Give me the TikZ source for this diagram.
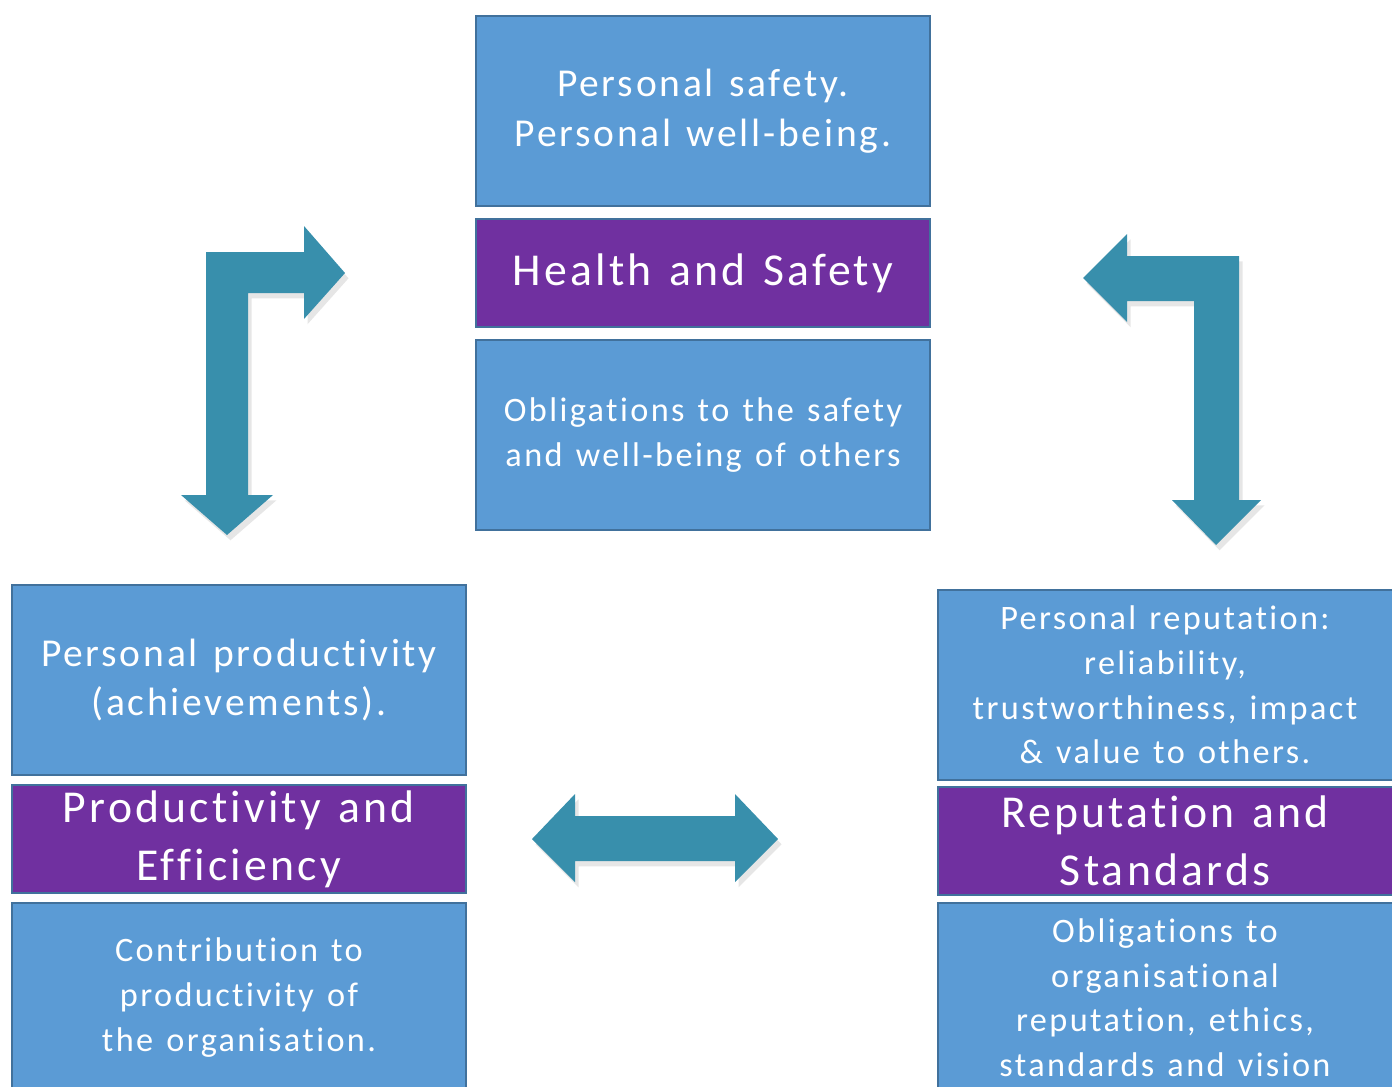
\documentclass[tikz,border=0pt]{standalone}
\usepackage{fontspec}
\setmainfont{Carlito}[LetterSpace=7, WordSpace=1.3, Ligatures=NoCommon]
\usetikzlibrary{positioning,shadows}

\definecolor{boxblue}{RGB}{91,155,213}
\definecolor{boxedge}{RGB}{65,113,156}
\definecolor{boxpurple}{RGB}{112,48,160}
\definecolor{arrowteal}{RGB}{56,143,172}

\tikzset{
  infobox/.style={draw=boxedge, line width=1.1pt, fill=boxblue, text=white,
    inner sep=0pt, align=center, minimum width=9.1cm, minimum height=3.8cm},
  titlebox/.style={infobox, fill=boxpurple, minimum height=2.16cm},
  bigtext/.style={font=\fontsize{22.5}{28.3}\selectfont},
  smalltext/.style={font=\fontsize{19.5}{25.5}\selectfont},
  titletext/.style={font=\fontsize{26}{32.9}\selectfont},
  blockarrow/.style={fill=arrowteal, draw=none,
    drop shadow={shadow xshift=2pt, shadow yshift=-3pt, opacity=0.2}}
}

\begin{document}
\begin{tikzpicture}[x=0.02cm, y=-0.02cm]
\useasboundingbox (0,0) rectangle (1392,1086);
\clip (0,0) rectangle (1392,1086);

\node [infobox, bigtext, minimum width=9.08cm] (hsTop) at (703,111) {Personal safety.\\Personal well-being.};
\node [titlebox, titletext, minimum width=9.08cm, below=0.22cm of hsTop] (hsTitle) {Health and Safety};
\node [infobox, smalltext, minimum width=9.08cm, below=0.22cm of hsTitle] (hsLow) {Obligations to the safety\\and well-being of others};

\node [infobox, bigtext] (peTop) at (239,680) {Personal productivity\\(achievements).};
\node [titlebox, titletext, below=0.16cm of peTop] (peTitle) {Productivity and\\Efficiency};
\node [infobox, smalltext, below=0.16cm of peTitle] (peLow) {Contribution to\\productivity of\\the organisation.};

\node [infobox, smalltext] (rsTop) at (1165,685) {Personal reputation:\\reliability,\\trustworthiness, impact\\\& value to others.};
\node [titlebox, titletext, below=0.1cm of rsTop] (rsTitle) {Reputation and\\Standards};
\node [infobox, smalltext, below=0.12cm of rsTitle] (rsLow) {Obligations to\\organisational\\reputation, ethics,\\standards and vision};

% bent arrows and the two-way arrow
\fill [blockarrow] (206,252) -- (304,252) -- (304,226) -- (345,273) -- (304,319) -- (304,293)
  -- (248,293) -- (248,495) -- (273,495) -- (227,535) -- (181,495) -- (206,495) -- cycle;
\fill [blockarrow] (1239,256) -- (1127,256) -- (1127,234) -- (1083,278) -- (1127,322) -- (1127,301)
  -- (1194,301) -- (1194,500) -- (1172,500) -- (1216,545) -- (1261,500) -- (1239,500) -- cycle;
\fill [blockarrow] (532,839) -- (575,794) -- (575,816) -- (735,816) -- (735,794) -- (778,839)
  -- (735,882) -- (735,861) -- (575,861) -- (575,882) -- cycle;
\end{tikzpicture}
\end{document}
